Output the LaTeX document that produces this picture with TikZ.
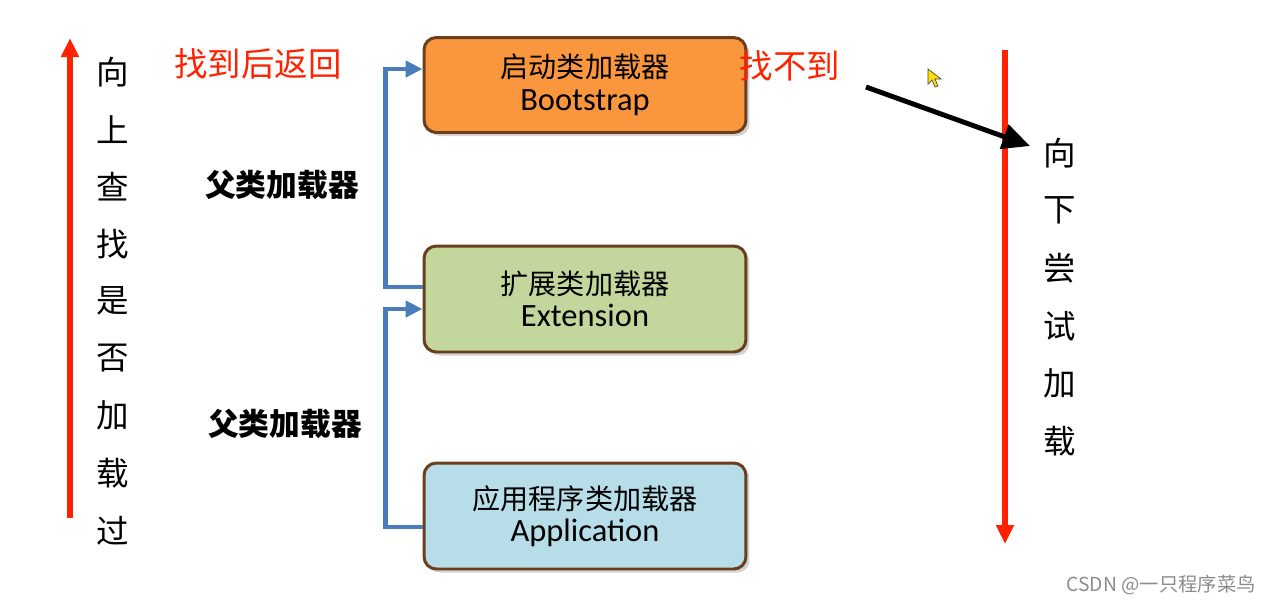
\documentclass[tikz,border=0pt]{standalone}
\usepackage{fontspec}
\setmainfont{Carlito}
\newfontfamily\cjk{Noto Sans CJK SC}
\usetikzlibrary{arrows.meta,shadows}
\definecolor{bootorange}{HTML}{F9963E}
\definecolor{extgreen}{HTML}{C3D69B}
\definecolor{appblue}{HTML}{B7DEE8}
\definecolor{boxbrown}{HTML}{6B3E1E}
\definecolor{linkblue}{HTML}{4A7EBB}
\definecolor{hintred}{HTML}{FF2200}
\newcommand{\cn}[1]{{\cjk\fontsize{16}{18.5}\selectfont #1}}
\tikzstyle{loader}=[draw=boxbrown,line width=1.7pt,rounded corners=7pt,minimum width=6.44cm,align=center,
  font=\fontsize{18.5}{18.5}\selectfont,drop shadow={opacity=0.35,shadow xshift=2pt,shadow yshift=-2pt}]
\tikzstyle{link}=[draw=linkblue,line width=2.6pt,-{Triangle[length=0.34cm,width=0.32cm]}]
\tikzstyle{bigred}=[draw=hintred,line width=3.4pt,-{Triangle[length=0.38cm,width=0.34cm]}]
\tikzstyle{vchar}=[font=\cjk\fontsize{18.5}{18.5}\selectfont,inner sep=0pt]
\tikzstyle{redtext}=[font=\cjk\fontsize{19}{19}\selectfont,text=hintred]
\tikzstyle{parent}=[font=\cjk\bfseries\fontsize{17.5}{17.5}\selectfont]

\begin{document}
\begin{tikzpicture}[x=0.02cm,y=-0.02cm]
    \useasboundingbox[fill=white] (0,0) rectangle (1275,603);
    \node[loader,fill=bootorange,minimum height=1.9cm] (boot) at (585,85) {\cn{启动类加载器}\\Bootstrap};
    \node[loader,fill=extgreen,minimum height=2.12cm] (ext) at (585,299) {\cn{扩展类加载器}\\Extension};
    \node[loader,fill=appblue,minimum height=2.12cm] (app) at (585,516) {\cn{应用程序类加载器}\\Application};

    \draw[link] ([yshift=0.24cm]ext.west) -- ++(-0.74cm,0) |- ([yshift=0.32cm]boot.west);
    \draw[link] ([yshift=-0.22cm]app.west) -- ++(-0.74cm,0) |- ([yshift=-0.2cm]ext.west);

    \node[parent] (p1) at (282,185) {父类加载器};
    \node[parent] (p2) at (285,424) {父类加载器};
    \node[redtext] (found) at (258,64) {找到后返回};
    \node[redtext] (notfound) at (790,66) {找不到};

    \coordinate (upS) at (70,518);
    \coordinate (upE) at (70,38);
    \draw[bigred] (upS) -- (upE);
    \foreach \ch [count=\i] in {向,上,查,找,是,否,加,载,过}
    \node[vchar] (up\i) at (113,72+57.3*\i-57.3) {\ch};

    \coordinate (downS) at (1005,50);
    \coordinate (downE) at (1005,544);
    \draw[bigred] (downS) -- (downE);
    \foreach \ch [count=\i] in {向,下,尝,试,加,载}
    \node[vchar] (down\i) at (1060,153+57.6*\i-57.6) {\ch};

    \coordinate (hintS) at (866,87);
    \coordinate (hintE) at (1030,146);
    \draw[line width=2.8pt,-{Triangle[length=0.55cm,width=0.5cm]}] (hintS) -- (hintE);

    % mouse pointer
    \filldraw[fill=yellow!80!orange,draw=black!70,line width=0.4pt] (928,69) -- (928,84) -- (932,80) -- (935,87) -- (938,86) -- (935,79) -- (941,79) -- cycle;

    \node[font=\cjk\fontsize{11}{11}\selectfont,text=black!45,anchor=east] (mark) at (1262,585) {CSDN @一只程序菜鸟};
\end{tikzpicture}
\end{document}
